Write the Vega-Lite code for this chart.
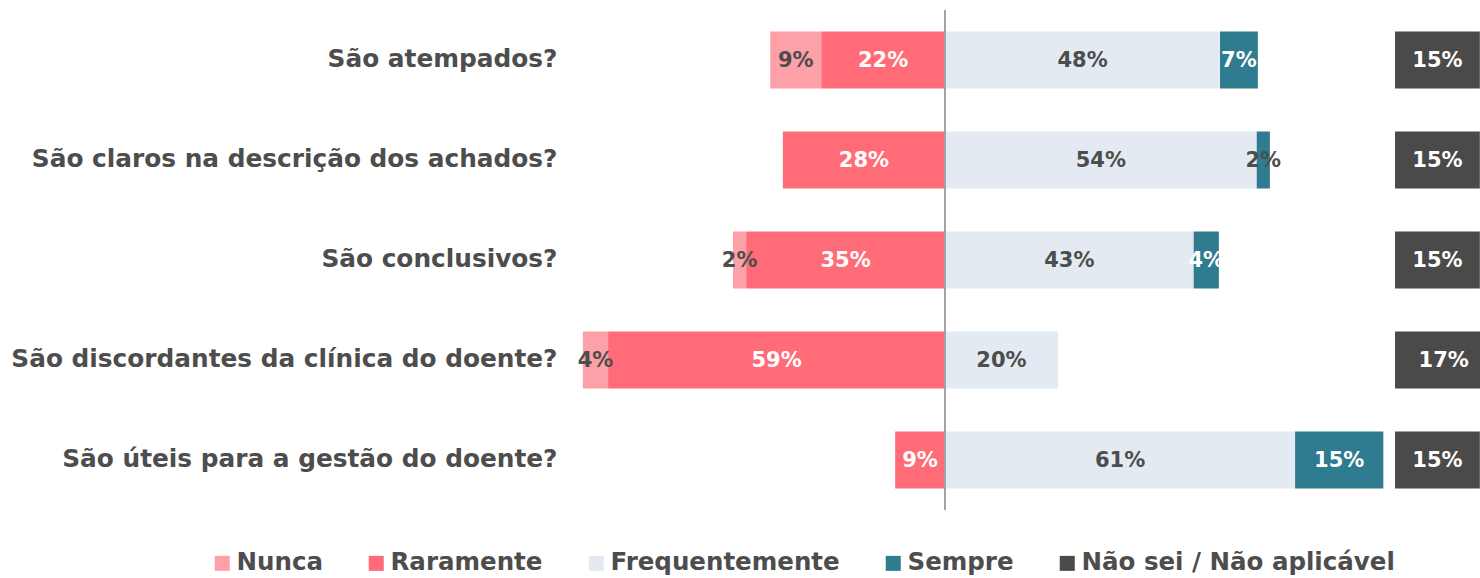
{
  "$schema": "https://vega.github.io/schema/vega-lite/v6.json",
  "autosize": {"type": "none"},
  "width": 910,
  "height": 500,
  "padding": {"left": 570, "top": 10, "right": 0, "bottom": 68},
  "background": "white",
  "config": {"view": {"stroke": null}, "font": "DejaVu Sans"},
  "datasets": {
    "survey": [
      {"q": "São atempados?", "cat": "Nunca", "pct": 8.9},
      {"q": "São atempados?", "cat": "Raramente", "pct": 21.6},
      {"q": "São atempados?", "cat": "Frequentemente", "pct": 48.0},
      {"q": "São atempados?", "cat": "Sempre", "pct": 6.6},
      {"q": "São atempados?", "cat": "Não sei / Não aplicável", "pct": 14.8},
      {"q": "São claros na descrição dos achados?", "cat": "Raramente", "pct": 28.3},
      {"q": "São claros na descrição dos achados?", "cat": "Frequentemente", "pct": 54.4},
      {"q": "São claros na descrição dos achados?", "cat": "Sempre", "pct": 2.3},
      {"q": "São claros na descrição dos achados?", "cat": "Não sei / Não aplicável", "pct": 14.8},
      {"q": "São conclusivos?", "cat": "Nunca", "pct": 2.3},
      {"q": "São conclusivos?", "cat": "Raramente", "pct": 34.7},
      {"q": "São conclusivos?", "cat": "Frequentemente", "pct": 43.4},
      {"q": "São conclusivos?", "cat": "Sempre", "pct": 4.4},
      {"q": "São conclusivos?", "cat": "Não sei / Não aplicável", "pct": 14.8},
      {"q": "São discordantes da clínica do doente?", "cat": "Nunca", "pct": 4.4},
      {"q": "São discordantes da clínica do doente?", "cat": "Raramente", "pct": 58.8},
      {"q": "São discordantes da clínica do doente?", "cat": "Frequentemente", "pct": 19.7},
      {"q": "São discordantes da clínica do doente?", "cat": "Não sei / Não aplicável", "pct": 17.0},
      {"q": "São úteis para a gestão do doente?", "cat": "Raramente", "pct": 8.7},
      {"q": "São úteis para a gestão do doente?", "cat": "Frequentemente", "pct": 61.1},
      {"q": "São úteis para a gestão do doente?", "cat": "Sempre", "pct": 15.4},
      {"q": "São úteis para a gestão do doente?", "cat": "Não sei / Não aplicável", "pct": 14.8}
    ]
  },
  "data": {"name": "survey"},
  "layer": [
    {
      "transform": [
        {"filter": "datum.cat !== 'Não sei / Não aplicável'"},
        {"calculate": "(datum.cat === 'Nunca' || datum.cat === 'Raramente') ? -datum.pct : datum.pct", "as": "signed"},
        {"calculate": "indexof(['Raramente','Nunca','Frequentemente','Sempre'], datum.cat)", "as": "ord"},
        {"stack": "signed", "groupby": ["q"], "sort": [{"field": "ord", "order": "ascending"}], "as": ["x0", "x1"], "offset": "zero"},
        {"calculate": "(datum.x0 + datum.x1) / 2", "as": "mid"},
        {"calculate": "format(datum.pct, '.0f') + '%'", "as": "label"}
      ],
      "layer": [
        {
          "mark": {"type": "bar"},
          "encoding": {
            "y": {
              "field": "q", "type": "nominal",
              "sort": ["São atempados?", "São claros na descrição dos achados?", "São conclusivos?", "São discordantes da clínica do doente?", "São úteis para a gestão do doente?"],
              "scale": {"paddingInner": 0.43, "paddingOuter": 0.215},
              "axis": {"title": null, "ticks": false, "domain": false, "labelFont": "DejaVu Sans", "labelFontSize": 24.8, "labelFontWeight": "bold", "labelColor": "#4d4d4d", "labelPadding": 13, "labelLimit": 700}
            },
            "x": {"field": "x0", "type": "quantitative", "scale": {"domain": [-65.45, 93.37], "nice": false, "zero": false}, "axis": null},
            "x2": {"field": "x1"},
            "color": {
              "field": "cat", "type": "nominal",
              "scale": {
                "domain": ["Nunca", "Raramente", "Frequentemente", "Sempre", "Não sei / Não aplicável"],
                "range": ["#FDA0A7", "#FF6C78", "#E3EAF1", "#2F7B8F", "#4A4A4A"]
              },
              "legend": {
                "orient": "none", "legendX": -360, "legendY": 541, "direction": "horizontal", "title": null,
                "symbolType": "square", "symbolSize": 225, "symbolStrokeWidth": 0,
                "labelFont": "DejaVu Sans", "labelFontSize": 24.5, "labelFontWeight": "bold", "labelColor": "#4d4d4d",
                "columnPadding": 41, "labelOffset": 2, "labelLimit": 500, "padding": 0, "offset": 0
              }
            }
          }
        },
        {
          "transform": [{"aggregate": [{"op": "count", "as": "n"}]}],
          "mark": {"type": "rule", "color": "#A3A3A3", "strokeWidth": 2},
          "encoding": {"x": {"datum": 0, "type": "quantitative"}}
        },
        {
          "mark": {"type": "text", "font": "DejaVu Sans", "fontSize": 21, "fontWeight": "bold", "align": "center", "baseline": "middle", "dy": 1},
          "encoding": {
            "y": {
              "field": "q", "type": "nominal",
              "sort": ["São atempados?", "São claros na descrição dos achados?", "São conclusivos?", "São discordantes da clínica do doente?", "São úteis para a gestão do doente?"],
              "scale": {"paddingInner": 0.43, "paddingOuter": 0.215},
              "axis": {"title": null, "ticks": false, "domain": false, "labelFont": "DejaVu Sans", "labelFontSize": 24.8, "labelFontWeight": "bold", "labelColor": "#4d4d4d", "labelPadding": 13, "labelLimit": 700}
            },
            "x": {"field": "mid", "type": "quantitative"},
            "text": {"field": "label"},
            "color": {
              "condition": {"test": "datum.cat === 'Raramente' || (datum.cat === 'Sempre' && datum.pct >= 3)", "value": "#FFFFFF"},
              "value": "#4d4d4d"
            }
          }
        }
      ]
    },
    {
      "transform": [
        {"filter": "datum.cat === 'Não sei / Não aplicável'"},
        {"calculate": "datum.pct / 2", "as": "mid"},
        {"calculate": "format(datum.pct, '.0f') + '%'", "as": "label"}
      ],
      "layer": [
        {
          "mark": {"type": "bar", "clip": true},
          "encoding": {
            "y": {
              "field": "q", "type": "nominal",
              "sort": ["São atempados?", "São claros na descrição dos achados?", "São conclusivos?", "São discordantes da clínica do doente?", "São úteis para a gestão do doente?"],
              "scale": {"paddingInner": 0.43, "paddingOuter": 0.215},
              "axis": {"title": null, "ticks": false, "domain": false, "labelFont": "DejaVu Sans", "labelFontSize": 24.8, "labelFontWeight": "bold", "labelColor": "#4d4d4d", "labelPadding": 13, "labelLimit": 700}
            },
            "x": {"field": "pct", "type": "quantitative", "stack": null, "scale": {"domain": [-143.98, 14.83], "nice": false, "zero": false}, "axis": null},
            "x2": {"datum": 0},
            "color": {
              "field": "cat", "type": "nominal",
              "scale": {
                "domain": ["Nunca", "Raramente", "Frequentemente", "Sempre", "Não sei / Não aplicável"],
                "range": ["#FDA0A7", "#FF6C78", "#E3EAF1", "#2F7B8F", "#4A4A4A"]
              },
              "legend": {
                "orient": "none", "legendX": -360, "legendY": 541, "direction": "horizontal", "title": null,
                "symbolType": "square", "symbolSize": 225, "symbolStrokeWidth": 0,
                "labelFont": "DejaVu Sans", "labelFontSize": 24.5, "labelFontWeight": "bold", "labelColor": "#4d4d4d",
                "columnPadding": 41, "labelOffset": 2, "labelLimit": 500, "padding": 0, "offset": 0
              }
            }
          }
        },
        {
          "mark": {"type": "text", "font": "DejaVu Sans", "fontSize": 21, "fontWeight": "bold", "align": "center", "baseline": "middle", "dy": 1, "color": "#FFFFFF"},
          "encoding": {
            "y": {
              "field": "q", "type": "nominal",
              "sort": ["São atempados?", "São claros na descrição dos achados?", "São conclusivos?", "São discordantes da clínica do doente?", "São úteis para a gestão do doente?"],
              "scale": {"paddingInner": 0.43, "paddingOuter": 0.215},
              "axis": {"title": null, "ticks": false, "domain": false, "labelFont": "DejaVu Sans", "labelFontSize": 24.8, "labelFontWeight": "bold", "labelColor": "#4d4d4d", "labelPadding": 13, "labelLimit": 700}
            },
            "x": {"field": "mid", "type": "quantitative"},
            "text": {"field": "label"}
          }
        }
      ]
    }
  ],
  "resolve": {"scale": {"x": "independent"}}
}
